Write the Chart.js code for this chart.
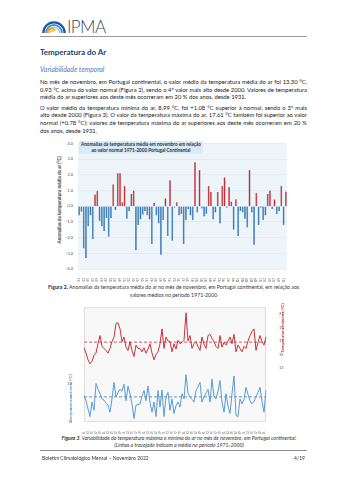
<!DOCTYPE html>
<html><head><meta charset="utf-8">
<script src="https://cdn.jsdelivr.net/npm/chart.js@4.4.1/dist/chart.umd.min.js"></script>
<style>
body{margin:0;width:340px;height:480px;background:#fff;position:relative;overflow:hidden;font-family:Lato,"Open Sans",sans-serif;color:#1a1a1a}
.a{position:absolute;white-space:nowrap}
.h{position:absolute;transform-origin:0 0;transform:scale(.5);white-space:nowrap}
.j{position:absolute;left:40px;width:534px;font-size:11.7px;line-height:15px;white-space:nowrap;transform-origin:0 0;transform:scale(.5)}
.anc{position:absolute;width:0;height:0}
.rot{position:absolute;left:0;top:0;transform:translate(-50%,-50%) rotate(-90deg) scale(.5);white-space:nowrap;font-weight:bold}
canvas{position:absolute}
</style></head><body>
<svg class="a" style="left:42px;top:20px" width="24" height="13" viewBox="0 0 24 13">
<path d="M1.3 13 A10.7 10.7 0 0 1 22.7 13" fill="none" stroke="#1e5aa0" stroke-width="2.2"/>
<path d="M4 13 A8 8 0 0 1 20 13" fill="none" stroke="#3f93d3" stroke-width="1.8"/>
<path d="M6.4 13 A5.6 5.6 0 0 1 17.6 13" fill="none" stroke="#8cc8ea" stroke-width="1.4"/>
<path d="M5.2 13 A4.3 4.3 0 0 1 13.2 10.5" fill="none" stroke="#f29a1f" stroke-width="1.8"/>
<path d="M7.6 13 A2.3 2.3 0 0 1 11.6 11.6" fill="none" stroke="#f7c62f" stroke-width="1.5"/>
</svg>
<div class="a" style="left:67px;top:16px;font-size:17px;color:#34495e;letter-spacing:-0.6px;font-weight:300">IPMA</div>
<div class="a" style="left:40px;top:36px;width:267px;height:1px;background:#9a9a9a"></div>
<div class="a" style="left:40px;top:47px;font-size:8px;font-weight:bold;color:#22406e">Temperatura do Ar</div>
<div class="a" style="left:40px;top:65px;font-size:6.9px;font-style:italic;color:#4a7ebb">Variabilidade temporal</div>
<div class="j jj" style="top:78.2px"><span>No mês de novembro, em Portugal continental, o valor médio da temperatura média do ar foi 13.30 °C,</span></div>
<div class="j jj" style="top:85.8px"><span>0.93 °C acima do valor normal (Figura 2), sendo o 4º valor mais alto desde 2000. Valores de temperatura</span></div>
<div class="j" style="top:93.4px"><span>média do ar superiores aos deste mês ocorreram em 20 % dos anos, desde 1931.</span></div>
<div class="j jj" style="top:103.7px"><span>O valor médio da temperatura mínima do ar, 8.99 °C, foi +1.08 °C superior à normal, sendo o 3º mais</span></div>
<div class="j jj" style="top:111.3px"><span>alto desde 2000 (Figura 3). O valor da temperatura máxima do ar, 17.61 °C também foi superior ao valor</span></div>
<div class="j jj" style="top:118.9px"><span>normal (+0.78 °C); valores de temperatura máxima do ar superiores aos deste mês ocorreram em 20 %</span></div>
<div class="j" style="top:126.5px"><span>dos anos, desde 1931.</span></div>

<canvas id="c1" width="252" height="146" style="left:40px;top:136px"></canvas>
<div class="h" style="left:79px;top:141px;width:248px;height:25px;background:#d8eaf5;text-align:center;font-size:9.2px;line-height:11.2px;font-weight:bold;color:#1f2f45;padding-top:1.4px;box-sizing:border-box">Anomalias da temperatura média em novembro em relação<br>ao valor normal 1971-2000 Portugal Continental</div>
<div class="anc" style="left:59px;top:200px"><div class="rot" style="font-size:9.2px;color:#333">Anomalias da temperatura média do ar (°C)</div></div>
<div class="h" style="left:40px;top:282.5px;width:534px;text-align:center;font-size:10.4px;line-height:15.6px;color:#333"><b style="color:#1f2f45">Figura 2.</b> Anomalias da temperatura média do ar no mês de novembro, em Portugal continental, em relação aos<br>valores médios no período 1971-2000</div>

<canvas id="c2" width="244" height="134" style="left:56px;top:300px"></canvas>
<div class="anc" style="left:282px;top:327.5px"><div class="rot" style="font-size:8.8px;color:#c0282d">Temperatura máxima (°C)</div></div>
<div class="anc" style="left:70px;top:398px"><div class="rot" style="font-size:8.8px;color:#5b9bd5">Temperatura mínima (°C)</div></div>
<div class="h" style="left:51px;top:434px;width:512px;text-align:center;font-size:10.4px;line-height:14px;font-style:italic;color:#333"><b>Figura 3</b>. Variabilidade da temperatura máxima e mínima do ar no mês de novembro, em Portugal continental.<br>(Linhas a tracejado indicam a média no período 1971-2000)</div>
<div class="a" style="left:40px;top:450px;width:267px;height:1px;background:#8a8a8a"></div>
<div class="h" style="left:41.5px;top:455px;font-size:10px;color:#333">Boletim Climatológico Mensal – Novembro 2022</div>
<div class="h" style="left:294px;top:455px;font-size:10px;color:#333">4/19</div>

<script>
const years = [1931,1932,1933,1934,1935,1936,1937,1938,1939,1940,1941,1942,1943,1944,1945,1946,1947,1948,1949,1950,
1951,1952,1953,1954,1955,1956,1957,1958,1959,1960,1961,1962,1963,1964,1965,1966,1967,1968,1969,1970,
1971,1972,1973,1974,1975,1976,1977,1978,1979,1980,1981,1982,1983,1984,1985,1986,1987,1988,1989,1990,
1991,1992,1993,1994,1995,1996,1997,1998,1999,2000,2001,2002,2003,2004,2005,2006,2007,2008,2009,2010,
2011,2012,2013,2014,2015,2016,2017,2018,2019,2020,2021,2022];

const anomalies = [-0.6,-0.35,-2.7,-3.3,-1.3,-0.6,-2.1,0.75,0.98,-0.95,
-1.3,-1.6,-0.75,-1.95,-0.75,1.4,-0.25,2.1,2.1,0.25,
1.3,-0.8,-0.3,0.8,1.0,-2.8,-1.2,-0.85,-0.55,-0.3,
-0.6,-0.85,-2.4,0.2,-0.6,-1.1,-3.1,-0.9,0.5,-1.9,
1.65,-2.2,-0.1,0.25,-0.6,-0.5,-2.4,-0.9,-0.2,-0.6,
-0.9,2.8,-0.4,2.3,-0.15,-0.65,-0.5,1.3,0.9,-0.85,
-0.4,0.9,-1.1,1.3,1.85,-0.1,1.2,0.3,-1.5,0.45,
-1.9,-0.3,-0.4,-0.8,-1.35,2.3,-0.4,-2.45,0.85,-1.2,
-0.1,-0.9,-0.6,0.8,1.0,-0.2,0.45,-0.5,-0.3,1.3,
-1.2,0.93];

const tmax = [16.0,15.2,14.2,13.6,14.0,14.9,15.2,16.6,17.8,16.2,
15.9,15.6,15.2,15.9,16.9,17.6,19.6,19.7,18.8,16.9,
17.6,16.1,15.6,16.9,15.6,14.7,16.4,15.9,15.9,15.4,
16.0,15.2,15.8,16.6,15.2,14.2,15.0,15.4,16.6,18.8,
15.9,17.6,17.0,16.9,15.4,16.6,15.8,17.1,16.6,16.8,
17.1,21.2,17.0,17.8,15.9,16.6,16.9,16.2,15.6,17.6,
16.5,15.9,17.8,18.0,17.4,16.9,16.2,15.9,17.8,16.1,
16.8,16.4,17.0,17.6,16.6,18.0,15.4,16.4,15.9,15.4,
16.2,15.9,17.0,17.8,18.4,18.8,15.6,16.8,17.8,16.9,
16.4,17.61];

const tmin = [8.1,7.3,6.0,4.8,7.1,5.8,10.0,9.1,8.4,7.6,
7.4,6.9,6.6,5.5,7.6,10.2,7.9,8.6,9.1,8.8,
9.9,7.3,9.6,8.4,6.8,4.5,6.6,6.7,6.8,8.0,
8.9,7.3,9.6,7.0,5.5,7.1,4.8,8.9,6.3,9.0,
4.8,7.9,8.6,5.8,7.6,5.3,6.5,7.1,6.3,8.4,
7.6,11.4,8.5,7.9,7.5,7.1,8.9,9.5,10.2,7.1,
7.9,8.5,9.1,7.1,10.7,7.9,7.6,8.8,10.5,7.1,
5.5,8.4,6.5,5.3,8.4,11.2,5.0,4.8,7.6,6.8,
7.5,9.4,8.3,7.3,6.8,7.2,7.9,8.6,9.4,7.2,
5.5,8.99];

const normalMax = 16.83;
const normalMin = 7.91;
const anomalyTicks = [-4,-3,-2,-1,0,1,2,3,4];
const maxTicks = [13,15,17,19,21];
const minTicks = [4,6,8,10];

const RED = '#c62a2f', BLUE = '#2f74b5';
const LINE_RED = '#c8323a', LINE_BLUE = '#5b9bd5';
const F = 'Lato, "Open Sans", sans-serif';

// justify paragraph lines (in unscaled px: 534 = 267 * 2)
document.querySelectorAll('.jj').forEach(el=>{
  const sp = el.firstElementChild;
  const w = sp.getBoundingClientRect().width * 2;
  const n = (sp.textContent.match(/ /g)||[]).length;
  const gap = 534 - w;
  if (gap >= 0) { if (n) sp.style.wordSpacing = (gap / n) + 'px'; }
  else sp.style.letterSpacing = (gap / sp.textContent.length) + 'px';
});

const bg1 = {id:'bg1', beforeDraw(c){const a=c.chartArea,x=c.ctx;x.save();x.fillStyle='#edf5fb';x.fillRect(a.left,a.top,a.right-a.left,a.bottom-a.top);x.restore();}};
const bg2 = {id:'bg2', beforeDraw(c){const a=c.chartArea,x=c.ctx;x.save();x.fillStyle='#f8f8f8';x.fillRect(a.left,a.top,a.right-a.left,a.bottom-a.top);x.strokeStyle='#d6d6d6';x.lineWidth=0.8;x.strokeRect(a.left+0.4,a.top+0.4,a.right-a.left-0.8,a.bottom-a.top-0.8);x.restore();}};

new Chart(document.getElementById('c1'), {
  type:'bar',
  data:{labels:years, datasets:[{data:anomalies,
    backgroundColor:anomalies.map(v=>v>=0?RED:BLUE),
    borderColor:anomalies.map(v=>v>=0?'#a51f24':'#235f98'), borderWidth:0.4,
    barPercentage:0.82, categoryPercentage:1}]},
  options:{responsive:false, animation:false, devicePixelRatio:1,
    layout:{padding:{left:0,right:5,top:4.4,bottom:0}},
    plugins:{legend:{display:false}, tooltip:{enabled:false}},
    scales:{
      x:{grid:{display:false}, border:{display:false},
        ticks:{autoSkip:false, maxRotation:90, minRotation:90, padding:1, color:'#555', font:{size:3, family:F},
          callback:(v,i)=> i%2===0 ? String(years[i]) : ''},
        afterFit:s=>{s.height=13;}},
      y:{min:-4, max:4, border:{display:false},
        afterBuildTicks:s=>{s.ticks=anomalyTicks.map(v=>({value:v}));},
        ticks:{callback:v=>Number(v).toFixed(1), color:'#555', font:{size:4, family:F}, padding:5},
        grid:{color:'#d8e4ee', lineWidth:0.6, drawTicks:false},
        afterFit:s=>{s.width=38;}}
    }},
  plugins:[bg1]
});

new Chart(document.getElementById('c2'), {
  type:'line',
  data:{labels:years, datasets:[
    {data:tmax, yAxisID:'yR', borderColor:LINE_RED, borderWidth:1, pointRadius:0, tension:0},
    {data:tmin, yAxisID:'yL', borderColor:LINE_BLUE, borderWidth:1, pointRadius:0, tension:0},
    {data:[{x:years[0],y:normalMax},{x:years[years.length-1],y:normalMax}], yAxisID:'yR', borderColor:LINE_RED, borderWidth:0.8, borderDash:[3,2], pointRadius:0},
    {data:[{x:years[0],y:normalMin},{x:years[years.length-1],y:normalMin}], yAxisID:'yL', borderColor:'#3f79b0', borderWidth:0.8, borderDash:[3,2], pointRadius:0}
  ]},
  options:{responsive:false, animation:false, devicePixelRatio:1,
    layout:{padding:{left:0,right:0,top:4,bottom:0}},
    plugins:{legend:{display:false}, tooltip:{enabled:false}},
    scales:{
      x:{offset:false, grid:{display:false}, border:{display:false},
        ticks:{autoSkip:false, maxRotation:90, minRotation:90, padding:1.5, color:'#555', font:{size:3, family:F},
          callback:(v,i)=> i%2===0 ? String(years[i]) : ''},
        afterFit:s=>{s.height=12.3;}},
      yL:{position:'left', min:4, max:22, grid:{display:false}, border:{display:false},
        afterBuildTicks:s=>{s.ticks=minTicks.map(v=>({value:v}));},
        ticks:{color:'#555', font:{size:4, family:F}, padding:4},
        afterFit:s=>{s.width=28;}},
      yR:{position:'right', min:5, max:22, grid:{display:false}, border:{display:false},
        afterBuildTicks:s=>{s.ticks=maxTicks.map(v=>({value:v}));},
        ticks:{color:'#555', font:{size:4, family:F}, padding:5},
        afterFit:s=>{s.width=34;}}
    }},
  plugins:[bg2]
});
</script>
</body></html>
